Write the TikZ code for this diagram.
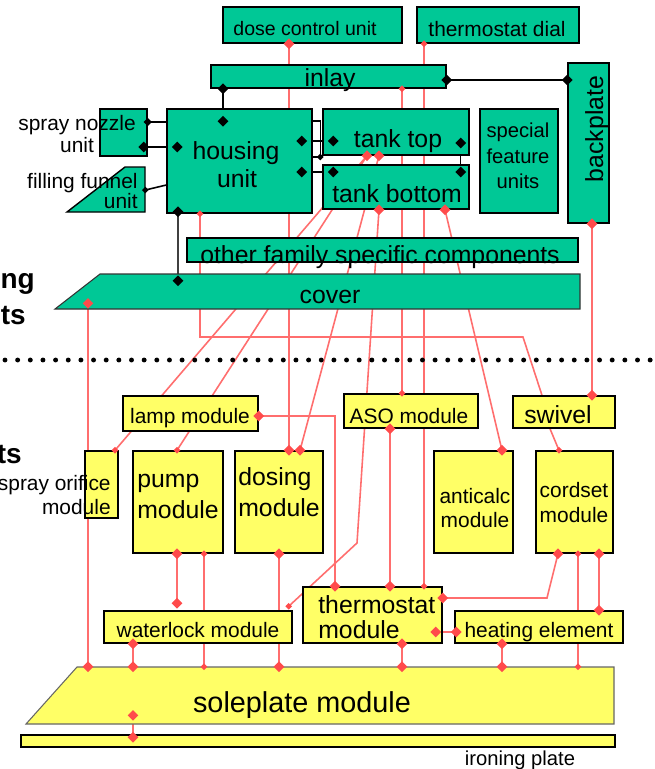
\documentclass[tikz,border=0pt]{standalone}
\usepackage{fontspec}
\setmainfont{Liberation Sans}
\usetikzlibrary{shapes.geometric,fit,calc}
\definecolor{grn}{RGB}{0,200,150}
\definecolor{yel}{RGB}{255,255,102}
\definecolor{redl}{RGB}{255,110,110}
\definecolor{redd}{RGB}{255,75,75}
\pgfdeclarelayer{bg}\pgfdeclarelayer{fg}\pgfsetlayers{bg,main,fg}
\begin{document}
\begin{tikzpicture}[x=0.02cm,y=-0.02cm,
 gbox/.style={draw=black,fill=grn,line width=0.8pt,inner sep=0pt},
 ybox/.style={draw=black,fill=yel,line width=0.8pt,inner sep=0pt},
 ghost/.style={inner sep=0pt},
 rl/.style={draw=redl,line width=0.9pt},
 bl/.style={draw=black,line width=0.9pt},
 rd/.style={diamond,fill=redd,inner sep=0pt,minimum size=0.22cm},
 rds/.style={diamond,fill=redd,inner sep=0pt,minimum size=0.14cm},
 bd/.style={diamond,fill=black,inner sep=0pt,minimum size=0.22cm},
 bds/.style={diamond,fill=black,inner sep=0pt,minimum size=0.14cm},
 lbl/.style={inner sep=0pt,anchor=base},
 fa/.style={font=\fontsize{11.1pt}{13pt}\selectfont},
 fb/.style={font=\fontsize{11.9pt}{13pt}\selectfont},
 fc/.style={font=\fontsize{11.5pt}{13pt}\selectfont},
 fd/.style={font=\fontsize{14.1pt}{16pt}\selectfont},
 fe/.style={font=\fontsize{16.4pt}{18pt}\selectfont},
 fbold/.style={font=\fontsize{15.9pt}{18pt}\selectfont\bfseries}
]
\useasboundingbox (0,0) rectangle (654,769);

% ---------- boxes ----------
\node[gbox,fit={(223,7)(402,43)}] (dose) {};
\node[gbox,fit={(417,7)(579,43)}] (tdial) {};
\node[gbox,fit={(211,65)(446,88)}] (inlay) {};
\node[gbox,fit={(568,63)(609,223)}] (backplate) {};
\node[gbox,fit={(100,109)(147,156)}] (nozzle) {};
\filldraw[gbox] (67,212) -- (125,167) -- (145,167) -- (145,212) -- cycle;
\node[ghost,fit={(67,167)(145,212)}] (funnel) {};
\node[gbox,fit={(167,109)(312,213)}] (housing) {};
\node[gbox,fit={(323,109)(469,155)}] (ttop) {};
\node[gbox,fit={(323,165)(469,209)}] (tbot) {};
\node[gbox,fit={(480,109)(558,213)}] (special) {};
\node[gbox,fit={(187,238)(578,262)}] (other) {};
\filldraw[fill=grn,draw=black!80,line width=0.6pt] (55,309) -- (100,274) -- (580,274) -- (580,309) -- cycle;
\node[ghost,fit={(55,274)(580,309)}] (cover) {};

\node[ybox,fit={(123,396)(258,431)}] (lamp) {};
\node[ybox,fit={(344,394)(478,428)}] (aso) {};
\node[ybox,fit={(513,396)(615,428)}] (swivel) {};
\node[ybox,fit={(85,451)(118,518)}] (orifice) {};
\node[ybox,fit={(133,451)(223,553)}] (pump) {};
\node[ybox,fit={(235,451)(323,553)}] (dosing) {};
\node[ybox,fit={(434,451)(513,553)}] (anticalc) {};
\node[ybox,fit={(536,451)(613,553)}] (cordset) {};
\node[ybox,fit={(104,611)(292,643)}] (waterlock) {};
\node[ybox,fit={(303,587)(442,643)}] (thermo) {};
\node[ybox,fit={(455,611)(623,643)}] (heating) {};
\filldraw[fill=yel,draw=black!60,line width=0.6pt] (26,724) -- (77,667) -- (614,667) -- (614,724) -- cycle;
\node[ghost,fit={(26,667)(614,724)}] (sole) {};
\node[ybox,fit={(21,735)(615,747)}] (ironing) {};

% dotted separator
\draw[line width=2.8pt,line cap=round,dash pattern=on 0pt off 7.2pt] (5,360) -- (654,360);

% ---------- texts ----------
\node[lbl,fa] at (305,35) {dose control unit};
\node[lbl,fb] at (497,36) {thermostat dial};
\node[lbl,fd] at (330,86) {inlay};
\node[lbl,fd,rotate=90] at (603,129) {backplate};
\node[lbl,fb] at (77,130) {spray nozzle};
\node[lbl,fb] at (77,152) {unit};
\node[lbl,fb,anchor=base east] at (138,188) {filling funnel};
\node[lbl,fb,anchor=base east] at (138,208) {unit};
\node[lbl,fd] at (236,159) {housing};
\node[lbl,fd] at (237,187) {unit};
\node[lbl,fd] at (398,147) {tank top};
\node[lbl,fd] at (397,202) {tank bottom};
\node[lbl,fc] at (518,137) {special};
\node[lbl,fc] at (518,163) {feature};
\node[lbl,fc] at (518,188) {units};
\node[lbl,fd] at (380,263) {other family specific components};
\node[lbl,fd] at (330,303) {cover};
\node[lbl,fbold,anchor=base east] at (35,288) {ng};
\node[lbl,fbold,anchor=base east] at (26,324) {ts};
\node[lbl,fbold,anchor=base east] at (22,463) {ts};
\node[lbl,fb] at (190,423) {lamp module};
\node[lbl,fb] at (409,423) {ASO module};
\node[lbl,fd] at (558,423) {swivel};
\node[lbl,fb,anchor=base east] at (111,490) {spray orifice};
\node[lbl,fb,anchor=base east] at (111,514) {module};
\node[lbl,fd,anchor=base west] at (137,487) {pump};
\node[lbl,fd,anchor=base west] at (137,518) {module};
\node[lbl,fd,anchor=base west] at (238,485) {dosing};
\node[lbl,fd,anchor=base west] at (238,516) {module};
\node[lbl,fb] at (475,503) {anticalc};
\node[lbl,fb] at (475,527) {module};
\node[lbl,fb] at (574,497) {cordset};
\node[lbl,fb] at (574,522) {module};
\node[lbl,fb] at (198,637) {waterlock module};
\node[lbl,fd,anchor=base west] at (318,613) {thermostat};
\node[lbl,fd,anchor=base west] at (318,638) {module};
\node[lbl,fb] at (539,637) {heating element};
\node[lbl,fe] at (302,712) {soleplate module};
\node[lbl,fc] at (520,765) {ironing plate};

% ---------- connectors ----------
\begin{pgfonlayer}{bg}
\fill[white] (0,0) rectangle (654,769);
% black
\draw[bl] (inlay.south -| 223,0) coordinate (b1a) -- ($(housing.north -| 223,0)+(0,13)$) coordinate (b1b);
\draw[bl] (nozzle.east |- 0,122) coordinate (b2a) -- (housing.west |- 0,122);
\draw[bl] ($(nozzle.east |- 0,147)+(-4,0)$) coordinate (b3a) -- ($(housing.west |- 0,147)+(11,0)$) coordinate (b3b);
\draw[bl] (funnel.east |- 0,190) coordinate (b4a) -- (housing.west |- 0,185);
\draw[bl] (housing.east |- 0,121) -- ($(ttop.west |- 0,121)+(-2,0)$) |- (housing.east |- 0,157);
\coordinate (b5a) at ($(ttop.west |- 0,157)+(-2,0)$);
\draw[bl] ($(housing.east |- 0,141)+(-11,0)$) coordinate (b6a) -- ($(ttop.west |- 0,141)+(11,0)$) coordinate (b6b);
\draw[bl] ($(housing.east |- 0,172)+(-11,0)$) coordinate (b7a) -- ($(tbot.west |- 0,172)+(11,0)$) coordinate (b7b);
\draw[bl] ($(ttop.east |- 0,143)+(-9,0)$) coordinate (b8a) -- ($(tbot.east |- 0,172)+(-9,0)$) coordinate (b8b);
\draw[bl] (inlay.east |- 0,80) coordinate (b9a) -- (backplate.west |- 0,80) coordinate (b9b);
\draw[bl,draw=black!75] ($(housing.south -| 178,0)+(0,-2)$) coordinate (b10a) -- ($(cover.north -| 178,0)+(0,7)$) coordinate (b10b);
% red
\draw[rl] (dose.south -| 289,0) coordinate (r1a) -- (dosing.north -| 289,0) coordinate (r1b);
\draw[rl] (tdial.south -| 424,0) coordinate (r2a) -- (thermo.north -| 424,0) coordinate (r2b);
\draw[rl] (inlay.south -| 402,0) coordinate (r3a) -- (aso.north -| 402,0) coordinate (r3b);
\draw[rl] (housing.south -| 200,0) coordinate (r4a) -- (200,337) -- (523,337) -- (swivel.north -| 542,0);
\draw[rl] (orifice.north -| 115,0) coordinate (r5a) -- (ttop.south -| 367,0) coordinate (r5b);
\draw[rl] (pump.north -| 177,0) coordinate (r6a) -- (r5b);
\draw[rl] (dosing.north -| 300,0) coordinate (r7a) -- (ttop.south -| 379,0) coordinate (r7b);
\draw[rl] (tbot.south -| 379,0) coordinate (r8a) -- (357,543) -- ($(waterlock.north east)+(-4,-4)$) coordinate (r8b);
\draw[rl] (tbot.south -| 445,0) coordinate (r9a) -- (anticalc.north -| 502,0) coordinate (r9b);
\draw[rl] (backplate.south -| 592,0) coordinate (r10a) -- (swivel.north -| 592,0) coordinate (r10b);
\draw[rl] (swivel.south -| 550,0) -- (cordset.north -| 559,0) coordinate (r11b);
\draw[rl] (cordset.south -| 558,0) coordinate (r12a) -- (547,598) -- (thermo.east |- 0,598) coordinate (r12b);
\draw[rl] (cordset.south -| 578,0) coordinate (r13a) -- (sole.north -| 578,0) coordinate (r13b);
\draw[rl] (cordset.south -| 599,0) coordinate (r14a) -- (heating.north -| 599,0) coordinate (r14b);
\draw[rl] ($(thermo.east |- 0,632)+(-7,0)$) coordinate (r15a) -- ($(heating.west |- 0,632)+(2,0)$) coordinate (r15b);
\draw[rl] (thermo.south -| 402,0) coordinate (r16a) -- (sole.north -| 402,0) coordinate (r16b);
\draw[rl] (heating.south -| 502,0) coordinate (r17a) -- (sole.north -| 502,0) coordinate (r17b);
\draw[rl] (pump.south -| 177,0) coordinate (r18a) -- ($(waterlock.north -| 177,0)+(0,-7)$) coordinate (r18b);
\draw[rl] (pump.south -| 204,0) coordinate (r19a) -- (sole.north -| 204,0) coordinate (r19b);
\draw[rl] (dosing.south -| 279,0) coordinate (r20a) -- (sole.north -| 279,0) coordinate (r20b);
\draw[rl] (waterlock.south -| 133,0) coordinate (r21a) -- (sole.north -| 133,0) coordinate (r21b);
\draw[rl] ($(cover.south -| 88,0)+(0,-6)$) coordinate (r22a) -- (sole.north -| 88,0) coordinate (r22b);
\draw[rl] ($(sole.south -| 133,0)+(0,-9)$) coordinate (r23a) -- ($(ironing.north -| 133,0)+(0,3)$) coordinate (r23b);
\draw[rl] (lamp.east |- 0,416) coordinate (r24a) -- (335,416) -- (thermo.north -| 335,0) coordinate (r24b);
\draw[rl] (aso.south -| 390,0) coordinate (r25a) -- (thermo.north -| 390,0) coordinate (r25b);
\end{pgfonlayer}

% ---------- end markers ----------
\begin{pgfonlayer}{fg}
\foreach \c in {b1a,b1b,b3a,b3b,b6a,b6b,b7a,b7b,b8a,b8b,b9a,b9b,b10a,b10b}
  \node[bd] at (\c) {};
\node[bd,minimum size=0.17cm] at (b2a) {};
\foreach \c in {b4a,b5a} \node[bds] at (\c) {};
\foreach \c in {r1a,r1b,r5b,r7a,r7b,r8a,r9a,r9b,r10a,r10b,r12a,r12b,r14a,r14b,r15a,r15b,r16a,r16b,r17a,r17b,r18a,r18b,r20a,r20b,r21a,r21b,r22a,r22b,r23a,r23b,r24a,r24b,r25a,r25b}
  \node[rd] at (\c) {};
\foreach \c in {r2a,r2b,r3a,r3b,r4a,r5a,r6a,r8b,r11b,r13a,r13b,r19a,r19b}
  \node[rds] at (\c) {};
\end{pgfonlayer}
\end{tikzpicture}
\end{document}
